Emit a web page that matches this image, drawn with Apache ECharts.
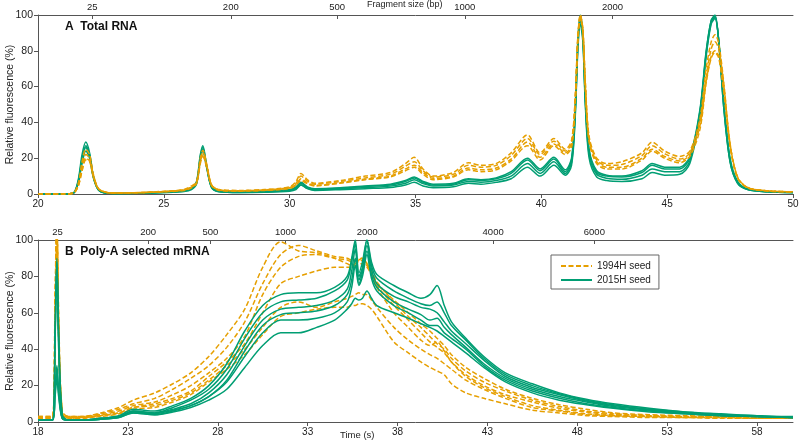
<!DOCTYPE html>
<html><head><meta charset="utf-8">
<script src="https://cdn.jsdelivr.net/npm/echarts@6/dist/echarts.min.js"></script>
<style>html,body{margin:0;padding:0;background:#fff}#c{width:800px;height:442px}</style>
</head><body><div id="c"></div><script>
// ---------- Panel A: Total RNA (time grid, s) ----------
const tA = [20,21,21.4,21.6,21.75,21.9,22.05,22.2,22.4,22.7,
  23,24,25,25.8,26.1,26.3,26.45,26.55,26.7,26.9,
  27.2,28,29,30,30.25,30.45,30.7,31,32,33,
  34,34.6,34.95,35.3,35.7,36.5,37.1,37.6,38.2,38.8,
  39.45,39.95,40.5,40.95,41.2,41.35,41.45,41.55,41.65,41.75,
  41.9,42.2,42.6,43.2,44.0,44.4,44.9,45.5,45.9,46.3,
  46.55,46.75,46.9,47.05,47.25,47.5,47.8,48.2,49,50];
// 2015H seed traces (green)
const gA1 = [0,0,0.5,8,22,29,23,10,2.5,0.5, 0.3,0.5,1.2,2,3.5,7,22,27,16,4, 1.5,1.2,1.5,2.5,4,6.5,4,3,3.5,4.5,
  5.5,7.5,9.5,7,5.5,6,8.5,8,9,12.5, 20,14,20.5,13.5,20,50,86,100,90,55, 25,13,10.5,10,13,17,15,15,21,47, 80,97,100,85,48,18,6,2.5,1.2,0.8];
const gA2 = [0,0,0.5,7,20,27,22,10,2.5,0.5, 0.3,0.5,1,1.8,3.2,6.5,21,26,16,4, 1.5,1,1.3,2.2,3.5,6,3.7,2.8,3.2,4.2,
  5,7,9,6.5,5,5.5,8,7.5,8.5,11.5, 19,13,19.5,12.5,19,48,84,99,89,53, 24,12,10,9.5,12,16,14,14,20,46, 79,97,99,85,48,18,6,2.5,1.2,0.8];
const gA3 = [0,0,0.4,6,17,24,20,9,2.2,0.5, 0.3,0.4,0.9,1.6,2.8,6,19,24,15,3.5, 1.3,0.9,1.2,2,3,5.2,3.2,2.5,2.8,3.6,
  4.4,6,8,5.8,4.5,5,7,6.6,7.5,10, 17,11.5,18,11.5,17.5,46,82,97,87,51, 22,11,8.8,8.2,10.5,14,12.5,12.5,18.5,45, 78,96,99,85,50,19,6.5,2.6,1.3,0.8];
const gA4 = [0,0,0.4,7,19,26,21,9.5,2.3,0.5, 0.3,0.4,0.8,1.4,2.5,5.5,20,25,15,3.5, 1.2,0.8,1,1.6,2.5,5,3,2,2.4,3,
  3.6,5,6.5,4.5,3.5,4,6,5.5,6.5,8.5, 15,10,16,10.5,16,44,80,95,85,49, 20,9.5,7.5,7,8.5,12,10.5,11,17,44, 77,95,98,86,52,20,7,2.8,1.4,0.9];
// 1994H seed traces (orange)
const oA1 = [0,0,0.5,6,18,25,22,11,3,1, 0.5,0.8,1.5,2.5,4.5,7,20,24.5,17,5, 2.5,2,2.5,4,7,11.5,8,6,7.5,10,
  12,17,20.5,14,10,12,17.5,16,17,23, 33,23,31,25,30,55,88,100,92,62, 32,20,17,18,23,29,24,21,24,42, 70,85,89,84,62,28,9,3.5,1.8,1.2];
const oA2 = [0,0,0.4,5,15,22,20,10.5,3,1, 0.6,0.8,1.4,2.3,4,6.5,19,23.5,16.5,5, 2.3,1.8,2.3,3.6,6,10,7.2,5.5,7,9,
  11,15.5,18,13,9.5,11,16,15,16,21.5, 31,22,29.5,24,28.5,54,87,100,92,61, 31,19,16,16.5,21.5,27,22.5,19.5,23,40, 66,81,85,81,61,28,9.5,3.6,1.8,1.2];
const oA3 = [0,0,0.4,4.5,13,20,18.5,10,3,1, 0.6,0.7,1.3,2.2,3.8,6,18,22,15.5,4.8, 2.2,1.7,2.1,3.3,5.2,8.5,6.2,4.8,6.3,8.3,
  10,14,16,12,8.8,10,14.5,13.5,14.5,19.5, 29,20.5,28,23,27,53,86,99,91,60, 30,18,15,15,20,25,21,18.5,22,38, 63,77,80,77,58,27,9,3.5,1.7,1.1];
const oA4 = [0,0,0.4,4.5,13,19,18,9.5,2.8,0.9, 0.5,0.7,1.2,2,3.5,5.8,17,21,15,4.6, 2,1.6,2,3,5,7.5,5.8,4.5,6,8,
  9.5,13,15,11,8,9.5,13.5,12.5,13.5,18.5, 27,19,27,22,26,52,85,99,90,58, 29,17,14,14,19,24,20,17.5,21,36, 62,76,79,76,57,27,9,3.5,1.7,1.1];

// ---------- Panel B: Poly-A selected mRNA ----------
const tB = [18,18.8,18.95,19.05,19.15,19.35,19.7,20.5,21.5,22.5,
  23.3,24.5,25.5,26.5,27.5,28.5,29.5,30.5,31.5,32.5,
  33.5,34.5,35.2,35.45,35.65,35.85,36.05,36.3,36.55,36.85,
  37.8,38.6,39.3,39.8,40.2,40.6,41,41.8,42.8,44,
  45.5,47,48.5,50,52,54,56,58,60];
const oB1 = [3,3,70,115,60,6,3,3,5,8, 12,16,21,27,36,48,62,85,99,94, 93,90,87,86,87,89,90,87,82,76,
  67,60,54,50,46,42,37,30,24,18, 13,9.5,7,5,4,3.5,3,3,2.5];
const oB2 = [2.5,2.5,60,110,55,5,2.5,3,4.5,7, 10,13,18,24,31,41,55,76,92,97, 94,91,90,89,89,90,90,87,83,77,
  66,58,52,47,43,40,35,28,22,17, 12,8.5,6,4.5,3.5,3,3,2.5,2.5];
const oB3 = [3,3,65,108,50,5,3,3,4,6, 9,11,15,20,27,35,47,70,85,91, 92,90,89,88,88,88,89,86,82,75,
  64,56,49,44,41,38,33,26,20,15, 11,7.5,5.5,4,3.5,3,2.5,2.5,2];
const oB4 = [2,2,50,96,45,4,2,2,3.5,5, 8,10,13,17,25,33,43,60,76,80, 83,85,85,85,86,87,87,85,81,74,
  60,52,45,42,44,39,33,25,19,14, 9,6.5,4.5,3.5,3,2.5,2.5,2,2];
const oB5 = [2.5,2.5,55,90,48,4,2.5,2.5,3.5,5, 8,9,12,16,23,31,40,52,63,66, 63,66,68,69,70,71,70,70,67,63,
  52,45,40,37,35,32,29,23,18,13, 8,6,4,3.5,3,2.5,2.5,2,2];
const oB6 = [2,2,60,105,50,5,2,2.5,3,4.5, 7,8,11,15,22,29,37,48,58,60, 62,63,63,64,64,65,65,64,62,58,
  44,38,33,30,28,26,21,16,13,10, 6.5,5,3.5,3,2.5,2.5,2,2,2];
const gB1 = [1,1,50,90,50,4,1,1,2,3.5, 7,6,9,13,20,32,50,64,70,71, 71,74,80,90,100,82,88,100,88,81,
  75,71,68,70,75,64,55,46,36,27, 21,16,12.5,10,7.5,5.5,4.5,3.5,3];
const gB2 = [1,1,48,87,45,3,1,1,2,3, 6,5,8,12,18,29,46,60,66,67, 68,72,78,88,98,80,85,100,86,79,
  72,68,65,64,66,60,53,45,35,26, 20,15.5,12,9.5,7,5.5,4,3.5,2.5];
const gB3 = [1,1,18,31,18,2,1,1,1.5,3, 6,5,7,10,16,26,42,56,62,63, 64,67,73,83,95,78,84,97,84,76,
  69,66,63,62,60,55,50,43,34,25, 19,15,11.5,9,7,5,4,3,2.5];
const gB4 = [1,1,14,24,14,2,1,1,1.5,2.5, 5,4,6,9,14,23,39,53,59,60, 61,64,70,78,90,76,82,94,81,74,
  66,62,59,56,57,52,48,41,32,24, 18,14,11,8.5,6.5,5,4,3,2.5];
const gB5 = [1,1,45,88,40,3,1,1,2,3, 5.5,4.5,6.5,9,14,22,36,49,56,56, 57,60,66,74,86,75,80,92,79,72,
  64,60,56,53,53,49,46,40,31,23, 17,13,10,8,6,4.5,3.5,3,2.5];
const gB6 = [1,1,16,28,16,2,1,1,1.5,2.5, 5,4,5.5,8,12,18,30,42,49,49, 52,56,62,65,68,67,68,72,68,64,
  60,57,54,52,50,47,44,38,30,22, 16,12,9.5,7.5,5.5,4.5,3.5,3,2.5];

// Fragment-size tick labels on the top axes (placed at time positions)
const bpLabelsA = ['25','200','500','1000','2000'];
const bpPosA = [22.16, 27.66, 31.89, 36.96, 42.83];
const bpLabelsB = ['25','200','500','1000','2000','4000','6000'];
const bpPosB = [19.08, 24.13, 27.59, 31.77, 36.32, 43.32, 48.95];
const yTicks = [0, 20, 40, 60, 80, 100];

const FONT = '"Liberation Sans", Arial, Helvetica, sans-serif';
const ORANGE = '#E69F00', GREEN = '#009E73';
const AX = '#555', TXT = '#222';

const series = [];
function addLine(name, color, dashed, xi, yi, t, vals) {
  series.push({
    type: 'line', name, xAxisIndex: xi, yAxisIndex: yi,
    data: t.map((x, i) => [x, vals[i]]),
    showSymbol: false, symbol: 'none', smooth: 0.3, clip: true, silent: true,
    lineStyle: { color, width: 1.5, type: dashed ? [5, 2.5] : 'solid' },
    itemStyle: { color }
  });
}
[gA1, gA2, gA3, gA4].forEach(v => addLine('2015H seed', GREEN, false, 0, 0, tA, v));
[oA1, oA2, oA3, oA4].forEach(v => addLine('1994H seed', ORANGE, true, 0, 0, tA, v));
[oB1, oB2, oB3, oB4, oB5, oB6].forEach(v => addLine('1994H seed', ORANGE, true, 2, 1, tB, v));
[gB1, gB2, gB3, gB4, gB5, gB6].forEach(v => addLine('2015H seed', GREEN, false, 2, 1, tB, v));

function lab(pos, labels) {
  return v => { const i = pos.findIndex(p => Math.abs(p - v) < 1e-6); return i >= 0 ? labels[i] : ''; };
}
const axisCommon = {
  axisLine: { show: true, lineStyle: { color: AX, width: 1 } },
  axisTick: { show: true, length: 4, lineStyle: { color: AX } },
  splitLine: { show: false },
  axisLabel: { color: TXT, fontSize: 10, fontFamily: FONT, margin: 5 }
};
function bottomX(grid, min, max, showMax) {
  return Object.assign({}, axisCommon, {
    type: 'value', gridIndex: grid, position: 'bottom', min, max, interval: 5,
    axisLabel: Object.assign({}, axisCommon.axisLabel, { showMaxLabel: showMax })
  });
}
function topX(grid, min, max, pos, labels) {
  return {
    type: 'value', gridIndex: grid, position: 'top', min, max,
    axisLine: { show: true, lineStyle: { color: AX, width: 1 } },
    axisTick: { show: true, inside: true, length: 4, lineStyle: { color: AX }, customValues: pos },
    splitLine: { show: false },
    axisLabel: { color: TXT, fontSize: 9.5, fontFamily: FONT, margin: 3, customValues: pos, formatter: lab(pos, labels) }
  };
}
function leftY(grid) {
  return Object.assign({}, axisCommon, {
    type: 'value', gridIndex: grid, min: yTicks[0], max: yTicks[yTicks.length - 1], interval: 20,
    axisLabel: Object.assign({}, axisCommon.axisLabel, { fontSize: 10.5 }),
    name: 'Relative fluorescence (%)', nameLocation: 'middle', nameGap: 22, nameMoveOverlap: false,
    nameTextStyle: { color: TXT, fontSize: 10.5, fontFamily: FONT }
  });
}

const chart = echarts.init(document.getElementById('c'), null, { renderer: 'canvas' });
chart.setOption({
  animation: false,
  backgroundColor: '#fff',
  grid: [
    { left: 38, right: 7, top: 15, height: 179, containLabel: false, outerBoundsMode: 'none' },
    { left: 38, right: 7, top: 240, height: 182, containLabel: false, outerBoundsMode: 'none' }
  ],
  xAxis: [
    bottomX(0, 20, 50, true),
    topX(0, 20, 50, bpPosA, bpLabelsA),
    bottomX(1, 18, 60, false),
    topX(1, 18, 60, bpPosB, bpLabelsB)
  ],
  yAxis: [leftY(0), leftY(1)],
  title: [
    { text: 'A  Total RNA', left: 65, top: 21, padding: 0,
      textStyle: { fontSize: 12, fontWeight: 'bold', fontFamily: FONT, color: '#111' } },
    { text: 'B  Poly-A selected mRNA', left: 65, top: 246, padding: 0,
      textStyle: { fontSize: 12, fontWeight: 'bold', fontFamily: FONT, color: '#111' } }
  ],
  legend: {
    orient: 'vertical', left: 551, top: 255, data: ['1994H seed', '2015H seed'],
    itemWidth: 31, itemHeight: 12, itemGap: 4, padding: [6, 8, 4, 9],
    borderColor: '#666', borderWidth: 1, selectedMode: false,
    itemStyle: { opacity: 0 },
    textStyle: { fontSize: 10, fontFamily: FONT, color: TXT }
  },
  graphic: [
    { type: 'text', left: 367, top: 0, style: { text: 'Fragment size (bp)', fontSize: 9, fontFamily: FONT, fill: TXT } },
    { type: 'text', left: 340, top: 430, style: { text: 'Time (s)', fontSize: 9.5, fontFamily: FONT, fill: TXT } }
  ],
  series
});
</script></body></html>
